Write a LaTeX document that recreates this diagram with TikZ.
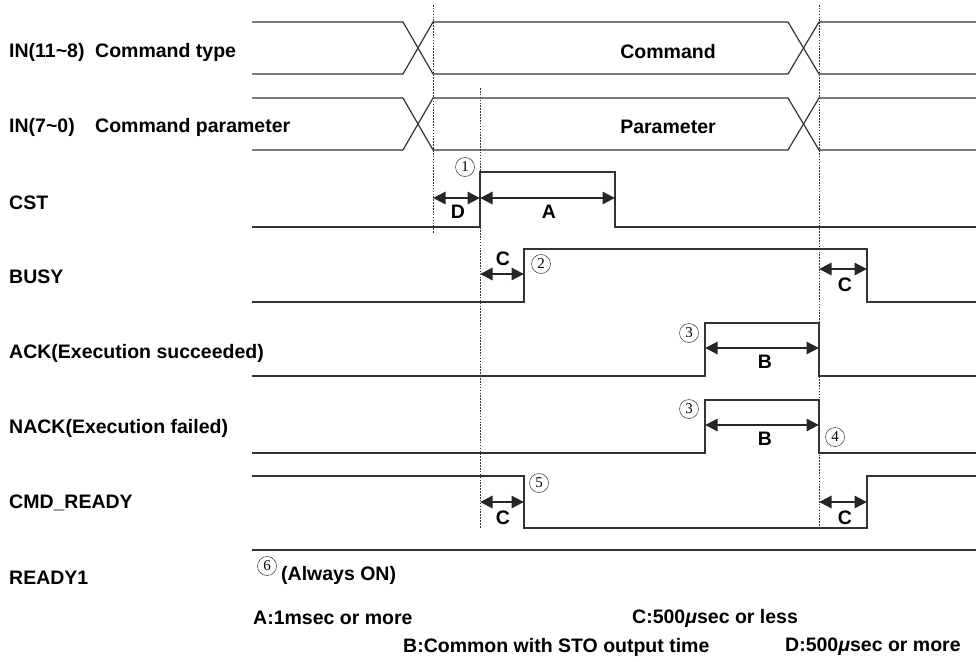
\documentclass[tikz,border=0pt]{standalone}
\usepackage{fontspec}
\setmainfont{Liberation Sans}
\newfontfamily\numfont{Liberation Serif}
\usetikzlibrary{arrows.meta}
\definecolor{wire}{rgb}{0.2,0.2,0.2}
\tikzset{
  sig/.style={line width=1.2pt, draw=wire, line join=miter},
  guide/.style={line width=0.8pt, draw=wire, dash pattern=on 1.6pt off 1.3pt},
  span/.style={
    {Triangle[length=12.5pt,width=12pt]}-{Triangle[length=12.5pt,width=12pt]},
    line width=2.8pt,
    black!85
  },
  lbl/.style={anchor=west, inner sep=0pt, font=\bfseries\fontsize{19.5}{23}\selectfont},
  tag/.style={inner sep=0pt, font=\bfseries\fontsize{19.5}{23}\selectfont},
  note/.style={anchor=west, inner sep=0pt, font=\bfseries\fontsize{19.5}{23}\selectfont},
  num/.style={
    circle,
    draw=wire,
    line width=0.5pt,
    minimum size=19pt,
    inner sep=0pt,
    font=\numfont\fontsize{15}{15}\selectfont
  }
}

\begin{document}
\begin{tikzpicture}[x=1pt,y=-1pt]
\useasboundingbox (0,0) rectangle (976,661);

% signal names
\node[lbl] (in11) at (9,52) {IN(11\textasciitilde8)};
\node[lbl] (ctype) at (95,52) {Command type};
\node[lbl] (in7) at (9,127) {IN(7\textasciitilde0)};
\node[lbl] (cpar) at (95,127) {Command parameter};
\node[lbl] (cst) at (9,203) {CST};
\node[lbl] (busy) at (9,277) {BUSY};
\node[lbl] (ack) at (9,353) {ACK(Execution succeeded)};
\node[lbl] (nack) at (9,428) {NACK(Execution failed)};
\node[lbl] (cmdrdy) at (9,503) {CMD\_READY};
\node[lbl] (rdy1) at (9,578) {READY1};

% timing guides
\draw[guide] (433,5) -- (433,233);
\draw[guide] (480,88) -- (480,528);
\draw[guide] (819,5) -- (819,528);

% data buses
\foreach \t/\b in {22/74, 98/150} {
  \draw[sig] (252,\t) -- (403,\t) -- (433,\b) -- (788,\b) -- (819,\t) -- (976,\t);
  \draw[sig] (252,\b) -- (403,\b) -- (433,\t) -- (788,\t) -- (819,\b) -- (976,\b);
}
\node[tag] (cmd) at (668,52) {Command};
\node[tag] (par) at (668,127) {Parameter};

% control lines
\draw[sig] (252,227) -| (480,172) -| (615,227) -- (976,227);
\draw[sig] (252,302) -| (524,249) -| (867,302) -- (976,302);
\draw[sig] (252,376) -| (705,323) -| (819,376) -- (976,376);
\draw[sig] (252,453) -| (705,400) -| (819,453) -- (976,453);
\draw[sig] (252,476) -| (524,528) -| (867,476) -- (976,476);
\draw[sig] (252,550) -- (976,550);

% intervals
\draw[span] (433,198) -- (480,198);
\draw[span] (480,198) -- (615,198);
\draw[span] (480,274) -- (524,274);
\draw[span] (819,269) -- (867,269);
\draw[span] (705,348) -- (819,348);
\draw[span] (705,425) -- (819,425);
\draw[span] (480,502) -- (524,502);
\draw[span] (819,502) -- (867,502);
\node[tag] (tD) at (458,212) {D};
\node[tag] (tA) at (549,212) {A};
\node[tag] (tC1) at (503,259) {C};
\node[tag] (tC2) at (845,285) {C};
\node[tag] (tB1) at (765,362) {B};
\node[tag] (tB2) at (765,439) {B};
\node[tag] (tC3) at (503,518) {C};
\node[tag] (tC4) at (845,518) {C};

% event numbers
\node[num] (n1) at (465,167) {1};
\node[num] (n2) at (541,264) {2};
\node[num] (n3a) at (689,333) {3};
\node[num] (n3b) at (689,409) {3};
\node[num] (n4) at (835,437) {4};
\node[num] (n5) at (539,483) {5};
\node[num] (n6) at (267,566) {6};
\node[note] (always) at (281,575) {(Always ON)};

% legend
\node[note] (legA) at (253,618) {A:1msec or more};
\node[note] (legB) at (403,647) {B:Common with STO output time};
\node[note] (legC) at (632,618) {C:500\textit{μ}sec or less};
\node[note] (legD) at (785,647) {D:500\textit{μ}sec or more};
\end{tikzpicture}
\end{document}
